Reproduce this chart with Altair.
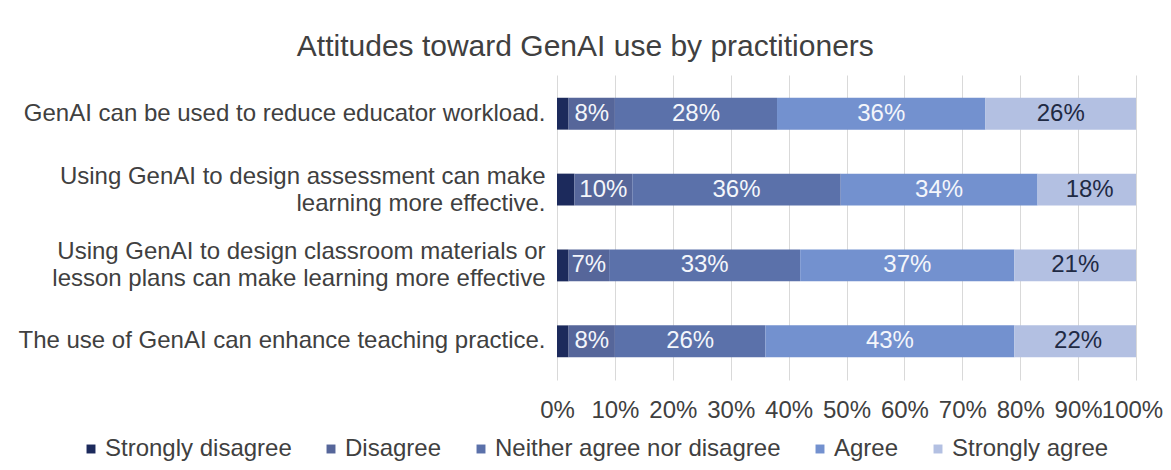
import altair as alt
import pandas as pd

statements = [
    "GenAI can be used to reduce educator workload.",
    "Using GenAI to design assessment can make\nlearning more effective.",
    "Using GenAI to design classroom materials or\nlesson plans can make learning more effective",
    "The use of GenAI can enhance teaching practice.",
]
responses = ["Strongly disagree", "Disagree", "Neither agree nor disagree", "Agree", "Strongly agree"]
strongly_disagree = [2, 3, 2, 2]
disagree = [8, 10, 7, 8]
neither = [28, 36, 33, 26]
agree = [36, 34, 37, 43]
strongly_agree = [26, 18, 21, 22]
colors = ["#1c2a5c", "#56669a", "#5b71aa", "#7391cf", "#b3c0e2"]
x_ticks = [0, 10, 20, 30, 40, 50, 60, 70, 80, 90, 100]

series = [strongly_disagree, disagree, neither, agree, strongly_agree]
rows = []
for i, s in enumerate(statements):
    start = 0
    for j, r in enumerate(responses):
        v = series[j][i]
        rows.append({"statement": s, "response": r, "order": j, "value": v,
                     "start": start, "end": start + v, "mid": start + v / 2,
                     "label": f"{v}%"})
        start += v
df = pd.DataFrame(rows)

FONT = "Liberation Sans"

y_enc = alt.Y("statement:N", sort=statements,
              scale=alt.Scale(paddingInner=0.58, paddingOuter=0.3),
              axis=alt.Axis(title=None, domain=False, ticks=False, labelPadding=12,
                            labelFontSize=24, labelLimit=0, labelLineHeight=27,
                            labelColor="#404040", labelFont=FONT,
                            labelOffset={"condition": {"test": "indexof(datum.value, '\\n') >= 0",
                                                       "value": -13},
                                         "value": 0},
                            labelExpr="split(datum.label, '\\n')"))

x_scale = alt.Scale(domain=[0, 100], nice=False)

bars = alt.Chart(df).mark_bar(clip=True).encode(
    y=y_enc,
    x=alt.X("start:Q", scale=x_scale,
            axis=alt.Axis(title=None, values=x_ticks, labelExpr="datum.value + '%'",
                          grid=True, gridColor="#d9d9d9", domain=False, ticks=False,
                          labelPadding=18, labelFontSize=24, labelColor="#404040",
                          labelFont=FONT, labelFlush=False, labelOverlap=False,
                          labelOffset={"condition": {"test": "datum.value >= 100",
                                                     "value": -4},
                                       "value": 0})),
    x2="end:Q",
    color=alt.Color("response:N", sort=responses,
                    scale=alt.Scale(domain=responses, range=colors),
                    legend=alt.Legend(title=None, orient="none", direction="horizontal",
                                      legendX=-478, legendY=362, symbolType="square",
                                      symbolSize=80, symbolStrokeWidth=0,
                                      columnPadding=27, labelOffset=2,
                                      labelFontSize=24, labelColor="#404040",
                                      labelFont=FONT, labelLimit=0)),
    order=alt.Order("order:Q"),
)

texts = alt.Chart(df).transform_filter(
    alt.datum.response != "Strongly disagree"
).mark_text(fontSize=24, font=FONT, baseline="middle", align="center").encode(
    y=alt.Y("statement:N", sort=statements),
    x=alt.X("mid:Q", scale=x_scale),
    text="label:N",
    color=alt.condition(alt.datum.response == "Strongly agree",
                        alt.value("#1f2a44"), alt.value("#f4f6fb")),
)

chart = alt.layer(bars, texts).properties(
    width=579, height=305,
    title=alt.TitleParams("Attitudes toward GenAI use by practitioners",
                          fontSize=30, font=FONT, fontWeight="normal",
                          color="#404040", anchor="middle", frame="bounds",
                          offset=13, dx=-5),
    autosize=alt.AutoSizeParams(type="none"),
    padding={"left": 549, "top": 67, "right": 27, "bottom": 82},
).configure_view(stroke=None)

chart.save("out.html", embed_options={"renderer": "svg", "actions": False})
